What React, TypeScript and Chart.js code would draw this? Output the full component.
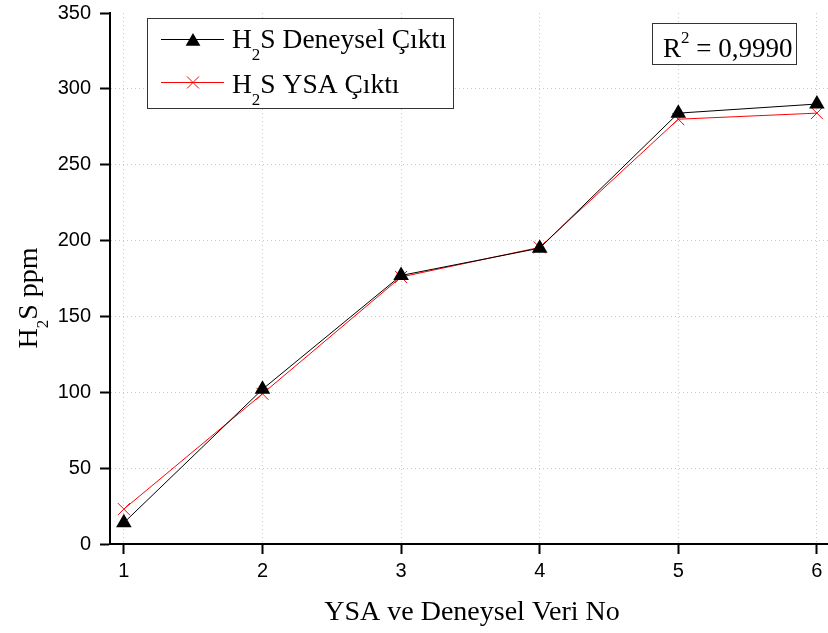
import React, { useEffect, useRef } from "react";
import { Chart, registerables } from "chart.js";

Chart.register(...registerables);

// Sample numbers on the x axis
const sampleNo = [1, 2, 3, 4, 5, 6];
// Measured H2S concentration (ppm)
const deneysel = [14, 102, 177, 195, 284, 290];
// Neural-network (YSA) prediction (ppm)
const ysa = [23, 99, 176, 195.5, 280, 284];
// Axis tick values
const xTicks = [1, 2, 3, 4, 5, 6];
const yTicks = [0, 50, 100, 150, 200, 250, 300, 350];
const r2Text = "0,9990";

const SERIF = "'Liberation Serif', 'Times New Roman', serif";
const SANS = "'Liberation Sans', Arial, sans-serif";

type Piece = { t: string; shift?: number; size?: number };

// draw a run of text pieces (normal / sub / superscript) starting at x, baseline y
function drawRich(ctx: CanvasRenderingContext2D, pieces: Piece[], x: number, y: number, base: number) {
  let cx = x;
  for (const p of pieces) {
    const size = p.size ?? base;
    ctx.font = `${size}px ${SERIF}`;
    ctx.fillText(p.t, cx, y + (p.shift ?? 0));
    cx += ctx.measureText(p.t).width;
  }
  return cx - x;
}
function richWidth(ctx: CanvasRenderingContext2D, pieces: Piece[], base: number) {
  let w = 0;
  for (const p of pieces) {
    ctx.font = `${p.size ?? base}px ${SERIF}`;
    w += ctx.measureText(p.t).width;
  }
  return w;
}

function drawTriangle(ctx: CanvasRenderingContext2D, x: number, y: number, r: number) {
  const s = Math.sin(Math.PI / 3) * r;
  ctx.beginPath();
  ctx.moveTo(x, y - r);
  ctx.lineTo(x - s, y + r / 2);
  ctx.lineTo(x + s, y + r / 2);
  ctx.closePath();
  ctx.fill();
}
function drawCross(ctx: CanvasRenderingContext2D, x: number, y: number, r: number) {
  const d = Math.cos(Math.PI / 4) * r;
  ctx.beginPath();
  ctx.moveTo(x - d, y - d);
  ctx.lineTo(x + d, y + d);
  ctx.moveTo(x - d, y + d);
  ctx.lineTo(x + d, y - d);
  ctx.stroke();
}

const overlay = {
  id: "overlay",
  afterDraw(chart: any) {
    const ctx: CanvasRenderingContext2D = chart.ctx;
    const titleSize = 28;
    const legendSize = 27.5;
    const boxSize = 27;
    const sub = 17;
    ctx.save();
    ctx.fillStyle = "#000";
    ctx.textBaseline = "alphabetic";
    ctx.textAlign = "left";

    // x axis title
    const xt: Piece[] = [{ t: "YSA ve Deneysel Veri No" }];
    const xw = richWidth(ctx, xt, titleSize);
    drawRich(ctx, xt, 472 - xw / 2, 620, titleSize);

    // y axis title
    const yt: Piece[] = [{ t: "H" }, { t: "2", size: sub, shift: 11 }, { t: "S ppm" }];
    const yw = richWidth(ctx, yt, titleSize);
    ctx.save();
    ctx.translate(37, 298);
    ctx.rotate(-Math.PI / 2);
    drawRich(ctx, yt, -yw / 2, 0, titleSize);
    ctx.restore();

    // legend box
    ctx.fillStyle = "#fff";
    ctx.fillRect(147, 18, 306, 90);
    ctx.strokeStyle = "#333";
    ctx.lineWidth = 1;
    ctx.strokeRect(147.5, 18.5, 306, 90);

    const rows = [
      { y: 39.5, color: "#000", kind: "tri", label: " Deneysel Çıktı", tb: 48 },
      { y: 82.5, color: "#ff0000", kind: "cross", label: " YSA Çıktı", tb: 93 },
    ];
    for (const r of rows) {
      ctx.strokeStyle = r.color;
      ctx.fillStyle = r.color;
      ctx.lineWidth = 1;
      ctx.beginPath();
      ctx.moveTo(161, r.y);
      ctx.lineTo(224, r.y);
      ctx.stroke();
      if (r.kind === "tri") drawTriangle(ctx, 193, r.y + 2, 8.5);
      else drawCross(ctx, 193, r.y, 8.5);
      ctx.fillStyle = "#000";
      drawRich(ctx, [{ t: "H" }, { t: "2", size: sub, shift: 12 }, { t: "S" + r.label }], 232, r.tb, legendSize);
    }

    // R² box
    ctx.fillStyle = "#fff";
    ctx.fillRect(652, 23, 144, 41);
    ctx.strokeStyle = "#333";
    ctx.strokeRect(652.5, 23.5, 144, 41);
    ctx.fillStyle = "#000";
    drawRich(ctx, [{ t: "R" }, { t: "2", size: sub, shift: -14 }, { t: " = " + r2Text }], 663, 57, boxSize);

    ctx.restore();
  },
};

export default function App() {
  const ref = useRef<HTMLCanvasElement | null>(null);

  useEffect(() => {
    if (!ref.current) return;
    const chart = new Chart(ref.current, {
      type: "line",
      data: {
        datasets: [
          {
            label: "H2S Deneysel Çıktı",
            data: sampleNo.map((x, i) => ({ x, y: deneysel[i] })),
            borderColor: "#000",
            backgroundColor: "#000",
            borderWidth: 1,
            pointStyle: "triangle",
            pointRadius: 9,
            pointBorderWidth: 0,
            pointBackgroundColor: "#000",
            tension: 0,
            clip: false,
          },
          {
            label: "H2S YSA Çıktı",
            data: sampleNo.map((x, i) => ({ x, y: ysa[i] })),
            borderColor: "#ff0000",
            backgroundColor: "#ff0000",
            borderWidth: 1,
            pointStyle: "crossRot",
            pointRadius: 8.5,
            pointBorderWidth: 1,
            pointBorderColor: "#ff0000",
            tension: 0,
            clip: false,
          },
        ],
      },
      options: {
        responsive: false,
        animation: false,
        devicePixelRatio: 1,
        layout: { autoPadding: false, padding: { top: 13, right: 0, left: 0, bottom: 0 } },
        plugins: { legend: { display: false }, tooltip: { enabled: false } },
        scales: {
          x: {
            type: "linear",
            min: 0.9,
            max: 6.08,
            afterBuildTicks: (s: any) => {
              s.ticks = xTicks.map((v) => ({ value: v }));
            },
            afterFit: (s: any) => {
              s.height = 89;
              s.paddingLeft = 0;
              s.paddingRight = 0;
            },
            grid: {
              color: "#c8c8c8",
              lineWidth: 1,
              tickColor: "#000",
              tickWidth: 2,
              tickLength: 10,
            },
            border: { display: true, color: "#000", width: 2, dash: [1, 3] },
            ticks: {
              color: "#000",
              font: { family: SANS, size: 20 },
              padding: 5,
              maxRotation: 0,
              callback: (v: any) => String(v),
            },
          },
          y: {
            type: "linear",
            min: 0,
            max: 350,
            afterBuildTicks: (s: any) => {
              s.ticks = yTicks.map((v) => ({ value: v }));
            },
            afterFit: (s: any) => {
              s.width = 110;
              s.paddingTop = 0;
              s.paddingBottom = 0;
            },
            grid: {
              color: (c: any) => (c.tick && c.tick.value === 350 ? "rgba(0,0,0,0)" : "#c8c8c8"),
              lineWidth: 1,
              tickColor: "#000",
              tickWidth: 2,
              tickLength: 10,
            },
            border: { display: true, color: "#000", width: 2, dash: [1, 3] },
            ticks: {
              color: "#000",
              font: { family: SANS, size: 20 },
              padding: 9,
              callback: (v: any) => String(v),
            },
          },
        },
      },
      plugins: [overlay],
    });
    return () => chart.destroy();
  }, []);

  return (
    <div style={{ position: "fixed", left: 0, top: 0, width: 828, height: 633, background: "#fff" }}>
      <canvas ref={ref} width={828} height={633} style={{ width: 828, height: 633, display: "block" }} />
    </div>
  );
}
